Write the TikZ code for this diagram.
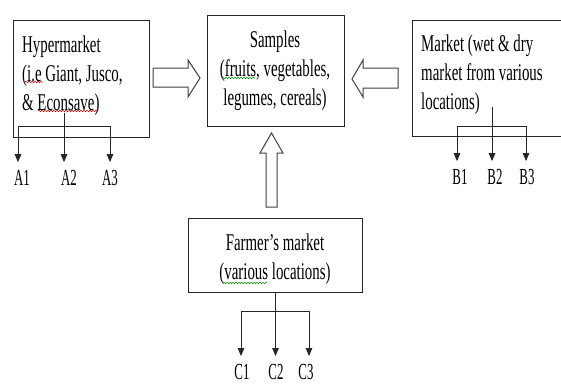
\documentclass[tikz,border=0pt]{standalone}
\usepackage{fontspec}
\setmainfont[FakeStretch=0.62]{Liberation Serif}
\newfontfamily\lblfont[FakeStretch=0.56]{Liberation Serif}
\usetikzlibrary{arrows.meta,decorations.pathmorphing}
\begin{document}
\begin{tikzpicture}[x=1pt,y=-1pt,
  box/.style={draw=black!85,line width=1pt,inner sep=0pt,anchor=north west},
  txt/.style={inner sep=0pt,font=\fontsize{24}{29}\selectfont,text=black},
  lbl/.style={inner sep=0pt,font=\lblfont\fontsize{23}{26}\selectfont,text=black},
  br/.style={draw=black!85,line width=1pt},
  tip/.style={-{Triangle[length=8pt,width=6.5pt]},shorten >=8pt},
  hollow/.style={draw=black!75,line width=1pt,fill=white,line join=miter},
  squig/.style={line width=0.5pt,decorate,decoration={snake,amplitude=0.8pt,segment length=3pt}}
]
\useasboundingbox (0,0) rectangle (561,383);
\begin{scope}
\clip (0,0) rectangle (561,383);
% boxes
\node[box,minimum width=136pt,minimum height=117pt] (hyp) at (13,20) {};
\node[box,minimum width=137pt,minimum height=111pt] (smp) at (207,15) {};
\node[box,minimum width=160pt,minimum height=116pt] (mkt) at (412,20) {};
\node[box,minimum width=174pt,minimum height=74pt] (frm) at (188,218) {};
\end{scope}
% texts
\node[txt,anchor=west,align=left] (hyptxt) at (22,76) {Hypermarket\\(i.e Giant, Jusco,\\\& Econsave)};
\node[txt,align=center] (smptxt) at (275,71) {Samples\\(fruits, vegetables,\\legumes, cereals)};
\node[txt,anchor=west,align=left] (mkttxt) at (421,75) {Market (wet \& dry\\market from various\\locations)};
\node[txt,align=center] (frmtxt) at (275,259) {Farmer’s market\\(various locations)};
% spell-check marks
\draw[squig,red!85!black] (25,82) -- (43,82);
\draw[squig,red!85!black] (38,111) -- (97,111);
\draw[squig,green!60!black] (222,78) -- (255,78);
\draw[squig,green!60!black] (223,283) -- (267,283);
% hollow arrows
\draw[hollow] (153,68) -- (188,68) -- (188,60) -- (200,78) -- (188,97) -- (188,87) -- (153,87) -- cycle;
\draw[hollow] (398,68) -- (363,68) -- (363,60) -- (352,79) -- (363,97) -- (363,88) -- (398,88) -- cycle;
\draw[hollow] (266,207) -- (266,153) -- (260,153) -- (271.5,133) -- (283,153) -- (277,153) -- (277,207) -- cycle;
% labels
\node[lbl] (A1) at (22,178) {A1};
\node[lbl] (A2) at (69,178) {A2};
\node[lbl] (A3) at (110,178) {A3};
\node[lbl] (B1) at (460,177) {B1};
\node[lbl] (B2) at (495,177) {B2};
\node[lbl] (B3) at (527,177) {B3};
\node[lbl] (C1) at (242,372) {C1};
\node[lbl] (C2) at (276,372) {C2};
\node[lbl] (C3) at (306,372) {C3};
% hypermarket bracket
\coordinate (hL) at (18,126);
\coordinate (hR) at (110,126);
\coordinate (hS) at (64,113);
\draw[br] (hL) -- (hR);
\draw[br,tip] (hL) -- (hL |- A1.north);
\draw[br,tip] (hS) -- (hS |- A2.north);
\draw[br,tip] (hR) -- (hR |- A3.north);
% market bracket
\coordinate (mL) at (457,126);
\coordinate (mR) at (526,126);
\coordinate (mS) at (492,107);
\draw[br] (mL) -- (mR);
\draw[br,tip] (mL) -- (mL |- B1.north);
\draw[br,tip] (mS) -- (mS |- B2.north);
\draw[br,tip] (mR) -- (mR |- B3.north);
% farmer bracket
\coordinate (fS) at (frm.south);
\coordinate (fL) at (241,311);
\coordinate (fR) at (309,311);
\draw[br] (fL) -- (fR);
\draw[br,tip] (fS) -- (fS |- C2.north);
\draw[br,tip] (fL) -- (fL |- C1.north);
\draw[br,tip] (fR) -- (fR |- C3.north);
\end{tikzpicture}
\end{document}
